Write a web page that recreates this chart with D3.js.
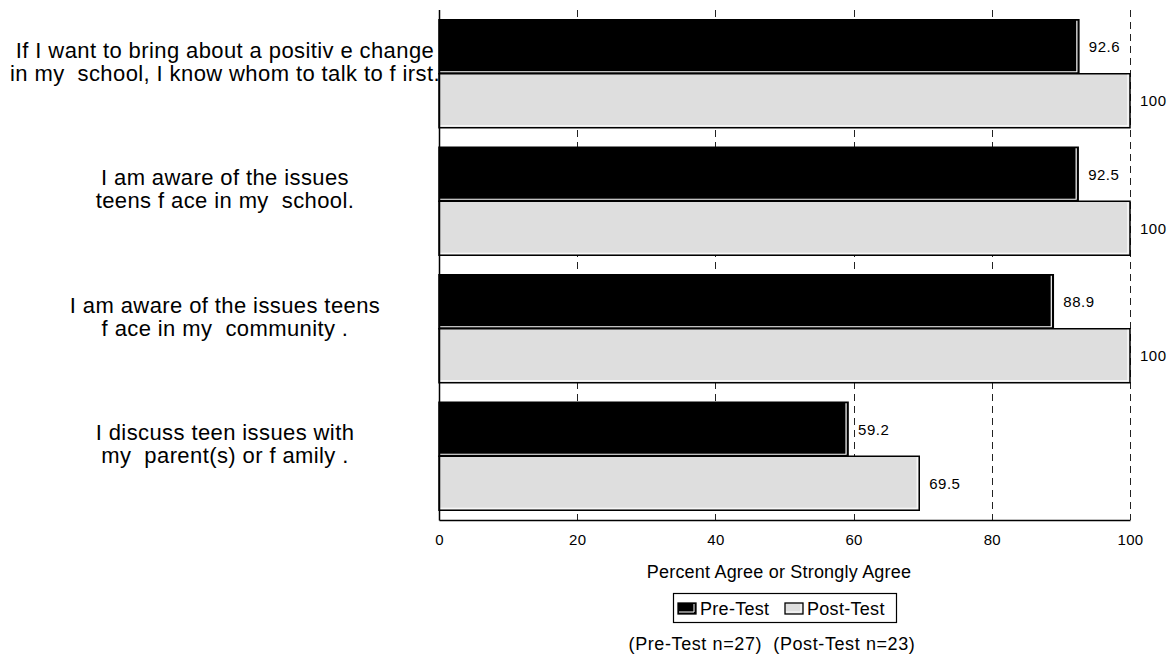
<!DOCTYPE html>
<html>
<head>
<meta charset="utf-8">
<script src="https://cdn.jsdelivr.net/npm/d3@7"></script>
<style>
  html, body { margin: 0; padding: 0; background: #fff; }
  svg { display: block; font-family: "Liberation Sans", Arial, sans-serif; }
</style>
</head>
<body>
<svg id="chart" width="1173" height="657"></svg>
<script>
const categories = [
  "If I want to bring about a positive change in my school, I know whom to talk to first.",
  "I am aware of the issues teens face in my school.",
  "I am aware of the issues teens face in my community.",
  "I discuss teen issues with my parent(s) or family."
];
const categoryLines = [
  ["If I want to bring about a positiv e change", "in my  school, I know whom to talk to f irst."],
  ["I am aware of the issues", "teens f ace in my  school."],
  ["I am aware of the issues teens", "f ace in my  community ."],
  ["I discuss teen issues with", "my  parent(s) or f amily ."]
];
const seriesNames = ["Pre-Test", "Post-Test"];
const preTest = [92.6, 92.5, 88.9, 59.2];
const postTest = [100, 100, 100, 69.5];
const xTicks = [0, 20, 40, 60, 80, 100];
const gridTicks = [20, 40, 60, 80, 100];
const axisTitle = "Percent Agree or Strongly Agree";
const footnote = "(Pre-Test n=27)  (Post-Test n=23)";

(function () {
const svg = d3.select("#chart");
const pLeft = 439, pRight = 1130, pTop = 10, pBottom = 520;

const x = d3.scaleLinear().domain([0, 100]).range([pLeft, pRight]);
const y = d3.scaleBand().domain(categories).range([pTop, pBottom])
  .paddingInner(0.153).paddingOuter(0.0765);
const ySub = d3.scaleBand().domain(seriesNames).range([0, y.bandwidth()]);
const fills = { "Pre-Test": "#000000", "Post-Test": "#dedede" };

// grid lines (dashed)
svg.append("g").selectAll("line").data(gridTicks).join("line")
  .attr("x1", d => Math.round(x(d)) + 0.5).attr("x2", d => Math.round(x(d)) + 0.5)
  .attr("y1", pTop).attr("y2", pBottom)
  .attr("stroke", "#222").attr("stroke-width", 1).attr("stroke-dasharray", "7,5");

// bars
const rows = [];
categories.forEach((c, i) => {
  rows.push({ cat: c, s: "Pre-Test", v: preTest[i] });
  rows.push({ cat: c, s: "Post-Test", v: postTest[i] });
});
const bars = svg.append("g").selectAll("g").data(rows).join("g");
bars.append("rect")
  .attr("x", x(0))
  .attr("y", d => y(d.cat) + ySub(d.s))
  .attr("width", d => x(d.v) - x(0))
  .attr("height", ySub.bandwidth())
  .attr("fill", d => fills[d.s])
  .attr("stroke", "#000").attr("stroke-width", 1.5);
bars.append("path")
  .attr("d", d => {
    const x0 = x(0), x1 = x(d.v), y0 = y(d.cat) + ySub(d.s), y1 = y0 + ySub.bandwidth();
    return `M${x0 + 1},${y1 - 2}H${x1 - 2}V${y0 + 1}`;
  })
  .attr("fill", "none").attr("stroke", "#fff").attr("stroke-width", 1.2);

// value labels
svg.append("g").selectAll("text").data(rows).join("text")
  .attr("x", d => x(d.v) + 10)
  .attr("y", d => y(d.cat) + ySub(d.s) + ySub.bandwidth() / 2)
  .attr("dy", "0.36em")
  .attr("font-size", 15).attr("letter-spacing", "0.5px").attr("fill", "#000")
  .text(d => String(d.v));

// left axis line
svg.append("line").attr("x1", pLeft + 0.5).attr("x2", pLeft + 0.5)
  .attr("y1", pTop).attr("y2", pBottom + 0.5)
  .attr("stroke", "#000").attr("stroke-width", 1.5);

// bottom axis
const xAxis = d3.axisBottom(x).tickValues(xTicks).tickSize(0).tickPadding(14)
  .tickFormat(d3.format("d"));
const gx = svg.append("g").attr("transform", `translate(0,${pBottom})`).call(xAxis);
gx.select(".domain").attr("stroke", "#000").attr("stroke-width", 1.5);
gx.selectAll("text").attr("font-size", 15).attr("letter-spacing", "0.3px")
  .attr("font-family", "Liberation Sans, Arial, sans-serif").attr("fill", "#000");

// category labels
const lab = svg.append("g").selectAll("text").data(categories).join("text")
  .attr("x", 225)
  .attr("y", d => y(d) + y.bandwidth() / 2 - 16)
  .attr("text-anchor", "middle")
  .attr("font-size", 22).attr("letter-spacing", "0.4px").attr("fill", "#000");
lab.each(function (d, i) {
  const t = d3.select(this);
  categoryLines[i].forEach((ln, j) => {
    t.append("tspan").attr("x", 225).attr("dy", j === 0 ? 0 : 23).attr("xml:space", "preserve").text(ln);
  });
});

// axis title
svg.append("text").attr("x", 779).attr("y", 578)
  .attr("text-anchor", "middle").attr("font-size", 18).attr("letter-spacing", "0.2px")
  .text(axisTitle);

// legend
const lg = svg.append("g");
lg.append("rect").attr("x", 673.5).attr("y", 593.5).attr("width", 223).attr("height", 29)
  .attr("fill", "#fff").attr("stroke", "#000").attr("stroke-width", 1.2);
const legendX = [678, 785];
seriesNames.forEach((s, i) => {
  lg.append("rect").attr("x", legendX[i]).attr("y", 603).attr("width", 18).attr("height", 11)
    .attr("fill", fills[s]).attr("stroke", "#000").attr("stroke-width", 1.3);
  lg.append("path").attr("d", `M${legendX[i] + 1},${612}H${legendX[i] + 16}V${604}`)
    .attr("fill", "none").attr("stroke", "#fff").attr("stroke-width", 1);
  lg.append("text").attr("x", legendX[i] + 22).attr("y", 615)
    .attr("font-size", 18).attr("letter-spacing", "0.3px").text(s);
});

// footnote
svg.append("text").attr("x", 772).attr("y", 650).attr("text-anchor", "middle")
  .attr("font-size", 18).attr("letter-spacing", "0.6px").attr("xml:space", "preserve")
  .text(footnote);
})();
</script>
</body>
</html>
